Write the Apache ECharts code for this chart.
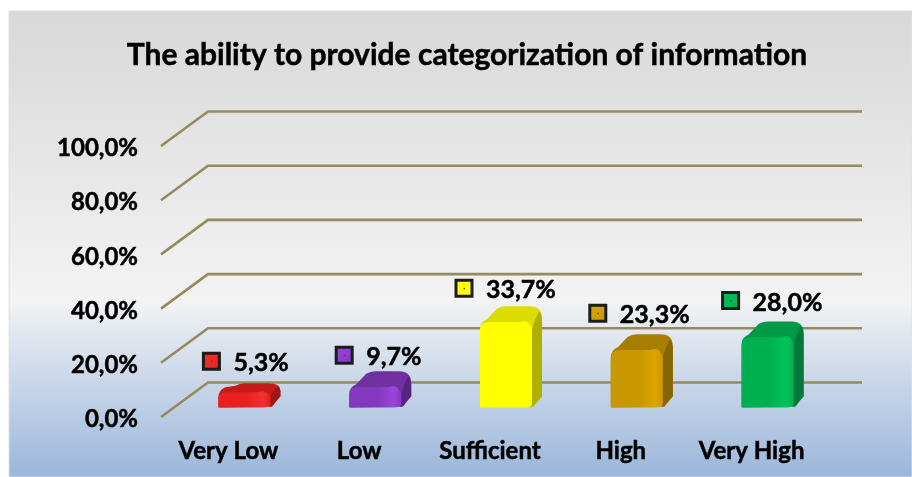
<!DOCTYPE html>
<html>
<head>
<meta charset="utf-8">
<script src="https://cdn.jsdelivr.net/npm/echarts@6/dist/echarts.min.js"></script>
<style>html,body{margin:0;padding:0;background:#fff}#c{width:912px;height:477px}</style>
</head>
<body>
<div id="c"></div>
<script>
const titleText = 'The ability to provide categorization of information';
const categories = ['Very Low', 'Low', 'Sufficient', 'High', 'Very High'];
const values = [5.3, 9.7, 33.7, 23.3, 28.0];
const valueLabels = ['5,3%', '9,7%', '33,7%', '23,3%', '28,0%'];
const yTicks = [0, 20, 40, 60, 80, 100];

// Styling and layout, kept apart from the data
const palette = [
  {front:'#e8201f', light:'#f2302f', top:'#c41c1a', side:'#9c1715'},
  {front:'#8438c0', light:'#9a45dc', top:'#7030a0', side:'#572580'},
  {front:'#ffff00', light:'#ffff00', top:'#dcdc00', side:'#b0b000'},
  {front:'#c99700', light:'#dca600', top:'#a87e00', side:'#866600'},
  {front:'#00b050', light:'#00c45a', top:'#009a46', side:'#007a38'}
];
const labelNudge = [[-33, -22], [-31, -16], [-42, -18], [-39, -21], [-37, -21]];
const FONT = 'Lato';
const DX = 45, DY = 34.5, RIGHT_END = 862;
const BAR_W = 52, BAR_SHIFT = 16, BASE_UP = 9.5, DEPTH = 10;

function num(v){ return '{v|' + v.toFixed(1).replace('.', ',') + '%}'; }

function renderGrid(params, api){
  const cs = params.coordSys;
  const p = api.coord([0, api.value(1)]);
  const x0 = cs.x - 2, y0 = p[1];
  return {
    type:'polyline',
    shape:{points:[[x0, y0], [x0 + DX + 2, y0 - DY], [RIGHT_END, y0 - DY]]},
    style:{stroke:'#958a5e', lineWidth:2.6, fill:null},
    silent:true
  };
}

function renderBar(params, api){
  const i = api.value(0), v = api.value(1);
  const c = api.coord([i, v]), b = api.coord([i, 0]);
  const col = palette[i];
  const cx = b[0] + BAR_SHIFT;
  const x0 = cx - BAR_W/2, x1 = cx + BAR_W/2;
  const yb = b[1] - BASE_UP;
  const h = b[1] - c[1];
  const T = yb - h - DEPTH;           // rear top edge
  const s = Math.min(21, h * 0.85);   // shoulder drop from rear top edge to the front face
  const ys = T + s;
  const ft = ys - s * 0.25;           // top of the front face
  const xr = x1 + DEPTH;
  const sil = `M${x0} ${ys+2}Q${x0} ${ys-5} ${x0+7} ${ys-8}L${x0+17} ${T+2.5}Q${x0+21} ${T} ${x0+26} ${T}`+
    `L${x1-2} ${T}Q${xr} ${T} ${xr} ${T+Math.min(12,s*0.6)}L${xr} ${yb-DEPTH-2}L${x1+2} ${yb-1}L${x0} ${yb}Z`;
  const side = `M${x1} ${ft+s*0.35}Q${x1+4} ${T+Math.min(10,s*0.5)} ${xr-3} ${T+Math.min(5,s*0.3)}Q${xr} ${T+Math.min(9,s*0.4)} ${xr} ${T+Math.min(14,s*0.7)}`+
    `L${xr} ${yb-DEPTH-1}L${x1+1} ${yb-1}L${x1-1} ${yb-0.5}Z`;
  const front = `M${x0} ${yb-1}L${x0} ${ys+2}Q${x0} ${ft} ${x0+11} ${ft}L${x1-11} ${ft}Q${x1} ${ft} ${x1} ${ft+s*0.4}`+
    `L${x1} ${yb-3}Q${x1-1} ${yb} ${x1-8} ${yb}L${x0+1} ${yb}Z`;
  const grad = new echarts.graphic.LinearGradient(0,0,1,0,[
    {offset:0, color:col.front},{offset:0.55,color:col.front},{offset:0.85,color:col.light},{offset:1,color:col.front}
  ]);
  const nudge = labelNudge[i];
  const mx = cx + nudge[0], my = T + nudge[1];
  return {
    type:'group',
    children:[
      {type:'path', shape:{pathData:sil}, style:{fill:col.top}},
      {type:'path', shape:{pathData:side}, style:{fill:col.side}},
      {type:'path', shape:{pathData:front}, style:{fill:grad}},
      {type:'ellipse', shape:{cx:x1-8, cy:ft+1.5, rx:5, ry:2.5}, style:{fill:col.light, opacity:0.8}},
      {type:'rect', shape:{x:mx-8, y:my-8, width:16, height:16},
        style:{fill:new echarts.graphic.LinearGradient(0,0,1,1,[{offset:0,color:col.light},{offset:1,color:col.front}]),
               stroke:'#1c1c1c', lineWidth:3}},
      {type:'rect', shape:{x:mx-0.5, y:my-0.5, width:1.5, height:1.5}, style:{fill:'#444'}},
      {type:'text', x:mx+22, y:my+2, style:{
        text:valueLabels[i], fill:'#000', stroke:'#000', lineWidth:0.5,
        font:`700 25px ${FONT}`, align:'left', verticalAlign:'middle'}}
    ]
  };
}

const boldAxis = {fontFamily:FONT, fontWeight:700, color:'#000', textBorderColor:'#000', textBorderWidth:0.5};

const chart = echarts.init(document.getElementById('c'), null, {renderer:'canvas'});
chart.setOption({
  animation:false,
  backgroundColor:'#ffffff',
  title:{
    text:titleText, left:462, top:35, textAlign:'center',
    textStyle:{fontFamily:FONT, fontWeight:700, fontSize:30, color:'#000', textBorderColor:'#000', textBorderWidth:0.5}
  },
  graphic:[{
    type:'rect', z:-10, silent:true,
    shape:{x:9, y:11, width:903, height:466},
    style:{
      stroke:'#e0e0e0', lineWidth:1,
      fill:new echarts.graphic.LinearGradient(0,0,0,1,[
        {offset:0,color:'#d8d8d8'},
        {offset:0.62,color:'#f3f3f3'},
        {offset:0.68,color:'#e4e9f0'},
        {offset:1,color:'#9ab6da'}
      ])
    }
  }],
  grid:{left:163, top:146, width:654, height:271},
  xAxis:{
    type:'category', data:categories,
    axisLine:{show:false}, axisTick:{show:false}, splitLine:{show:false},
    axisLabel:Object.assign({fontSize:24, margin:22, interval:0}, boldAxis)
  },
  yAxis:{
    type:'value', min:0, max:100, interval:20,
    axisLine:{show:false}, axisTick:{show:false}, splitLine:{show:false},
    axisLabel:Object.assign({fontSize:24, margin:25, formatter:num,
      rich:{v:Object.assign({fontSize:24, padding:[5,0,0,0]}, boldAxis)}}, boldAxis)
  },
  series:[
    {type:'custom', clip:false, silent:true, z:1, renderItem:renderGrid,
     encode:{x:0,y:1}, data:yTicks.map(t=>[0,t])},
    {type:'custom', clip:false, silent:true, z:2, renderItem:renderBar,
     encode:{x:0,y:1}, data:values.map((v,i)=>[i,v])}
  ]
});
</script>
</body>
</html>
